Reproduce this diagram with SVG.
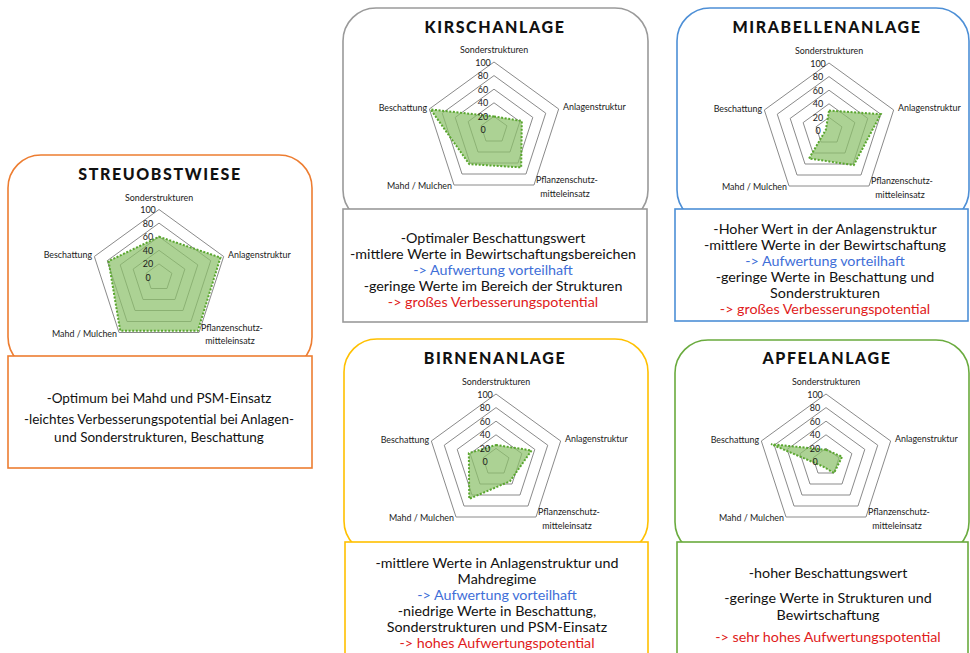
<svg xmlns="http://www.w3.org/2000/svg" xmlns:xlink="http://www.w3.org/1999/xlink" width="970" height="653" viewBox="0 0 970 653">
<style>
.bg{fill:#ffffff}
.panel{fill:#ffffff;stroke-width:1.6}
.tbox{fill:#ffffff;stroke-width:1.6}
.orange{stroke:#ED7D31}
.gray{stroke:#9a9a9a}
.blue{stroke:#4d8fd6}
.gold{stroke:#FFC000}
.green{stroke:#6aab3e}
.title{font-family:Lato,"Liberation Sans",sans-serif;font-weight:900;font-size:16px;letter-spacing:1.6px;fill:#111;text-anchor:middle}
.ax{font-family:Lato,"Liberation Sans",sans-serif;font-size:8.9px;fill:#1a1a1a}
.num{font-family:Lato,"Liberation Sans",sans-serif;font-size:9px;fill:#1a1a1a;text-anchor:middle}
.mid{text-anchor:middle}
.end{text-anchor:end}
.body{font-family:Lato,"Liberation Sans",sans-serif;font-size:14.3px;fill:#111;text-anchor:middle}
.s13{font-size:13.5px}
.bl{fill:#3f6fd8}
.rd{fill:#e01b1b}
.ring{fill:none;stroke:#8a8a8a;stroke-width:1}
.data{fill:#8cc06b;fill-opacity:0.72;stroke:#5aa62f;stroke-width:2;stroke-dasharray:2 1.6}
</style>
<defs>
<g id="grid">
<polygon class="ring" points="0,-68 64.67,-21.01 39.97,55.01 -39.97,55.01 -64.67,-21.01"/>
<polygon class="ring" points="0,-54.4 51.74,-16.81 31.98,44.01 -31.98,44.01 -51.74,-16.81"/>
<polygon class="ring" points="0,-40.8 38.8,-12.61 23.98,33.01 -23.98,33.01 -38.8,-12.61"/>
<polygon class="ring" points="0,-27.2 25.87,-8.4 15.99,22 -15.99,22 -25.87,-8.4"/>
<polygon class="ring" points="0,-13.6 12.93,-4.2 7.99,11 -7.99,11 -12.93,-4.2"/>
</g>
</defs>
<rect class="bg" x="0" y="0" width="970" height="653"/>

<g id="streuobstwiese">
<rect class="panel orange" x="8" y="155" width="304" height="215" rx="33"/>
<rect class="tbox orange" x="8" y="356" width="304" height="112"/>
<text class="title" x="160" y="180">STREUOBSTWIESE</text>
<g transform="translate(159,277.5)">
<use xlink:href="#grid"/>
<polygon class="data" points="0,-40.8 61.44,-19.96 38.77,53.36 -38.77,53.36 -50.44,-16.39"/>
<text class="ax mid" x="0" y="-77">Sonderstrukturen</text>
<text class="ax end" x="-67" y="-19.5">Beschattung</text>
<text class="ax" x="69" y="-20">Anlagenstruktur</text>
<text class="ax end" x="-42" y="59">Mahd / Mulchen</text>
<text class="ax" x="42" y="53">Pflanzenschutz-</text>
<text class="ax mid" x="71" y="66.5">mitteleinsatz</text>
<text class="num" x="-11" y="-64.5">100</text>
<text class="num" x="-11" y="-51">80</text>
<text class="num" x="-11" y="-37.5">60</text>
<text class="num" x="-11" y="-24">40</text>
<text class="num" x="-11" y="-10.5">20</text>
<text class="num" x="-11" y="3">0</text>
</g>
<text class="body s13" x="159" y="402.5">-Optimum bei Mahd und PSM-Einsatz</text>
<text class="body s13" x="159" y="423.5">-leichtes Verbesserungspotential bei Anlagen-</text>
<text class="body s13" x="159" y="441.5">und Sonderstrukturen, Beschattung</text>
</g>

<g id="kirschanlage">
<rect class="panel gray" x="343" y="8" width="305" height="215" rx="33"/>
<rect class="tbox gray" x="343" y="209" width="304" height="113"/>
<text class="title" x="495" y="33">KIRSCHANLAGE</text>
<g transform="translate(494,130)">
<use xlink:href="#grid"/>
<polygon class="data" points="0,-13.6 27.81,-9.03 27.18,37.41 -24.78,34.11 -63.38,-20.59"/>
<text class="ax mid" x="0" y="-77">Sonderstrukturen</text>
<text class="ax end" x="-67" y="-19.5">Beschattung</text>
<text class="ax" x="69" y="-20">Anlagenstruktur</text>
<text class="ax end" x="-42" y="59">Mahd / Mulchen</text>
<text class="ax" x="42" y="53">Pflanzenschutz-</text>
<text class="ax mid" x="71" y="66.5">mitteleinsatz</text>
<text class="num" x="-11" y="-64.5">100</text>
<text class="num" x="-11" y="-51">80</text>
<text class="num" x="-11" y="-37.5">60</text>
<text class="num" x="-11" y="-24">40</text>
<text class="num" x="-11" y="-10.5">20</text>
<text class="num" x="-11" y="3">0</text>
</g>
<text class="body" x="493" y="242.5">-Optimaler Beschattungswert</text>
<text class="body" x="493" y="258.5">-mittlere Werte in Bewirtschaftungsbereichen</text>
<text class="body bl" x="493" y="275">-&gt; Aufwertung vorteilhaft</text>
<text class="body" x="493" y="290.5">-geringe Werte im Bereich der Strukturen</text>
<text class="body rd" x="493" y="306.5">-&gt; großes Verbesserungspotential</text>
</g>

<g id="mirabellenanlage">
<rect class="panel blue" x="677" y="8" width="292" height="215" rx="33"/>
<rect class="tbox blue" x="675" y="209" width="293" height="112"/>
<text class="title" x="827" y="33">MIRABELLENANLAGE</text>
<g transform="translate(829,131)">
<use xlink:href="#grid"/>
<polygon class="data" points="0,-20.4 51.74,-16.81 24.78,34.11 -19.98,27.51 -3.23,-1.05"/>
<text class="ax mid" x="0" y="-77">Sonderstrukturen</text>
<text class="ax end" x="-67" y="-19.5">Beschattung</text>
<text class="ax" x="69" y="-20">Anlagenstruktur</text>
<text class="ax end" x="-42" y="59">Mahd / Mulchen</text>
<text class="ax" x="42" y="53">Pflanzenschutz-</text>
<text class="ax mid" x="71" y="66.5">mitteleinsatz</text>
<text class="num" x="-11" y="-64.5">100</text>
<text class="num" x="-11" y="-51">80</text>
<text class="num" x="-11" y="-37.5">60</text>
<text class="num" x="-11" y="-24">40</text>
<text class="num" x="-11" y="-10.5">20</text>
<text class="num" x="-11" y="3">0</text>
</g>
<text class="body" x="825" y="233.5">-Hoher Wert in der Anlagenstruktur</text>
<text class="body" x="825" y="249.5">-mittlere Werte in der Bewirtschaftung</text>
<text class="body bl" x="825" y="266">-&gt; Aufwertung vorteilhaft</text>
<text class="body" x="825" y="282">-geringe Werte in Beschattung und</text>
<text class="body" x="825" y="297.5">Sonderstrukturen</text>
<text class="body rd" x="825" y="313.5">-&gt; großes Verbesserungspotential</text>
</g>

<g id="birnenanlage">
<rect class="panel gold" x="344" y="339" width="304" height="215" rx="33"/>
<rect class="tbox gold" x="345" y="542" width="303" height="130"/>
<text class="title" x="495" y="364">BIRNENANLAGE</text>
<g transform="translate(496,462)">
<use xlink:href="#grid"/>
<polygon class="data" points="0,-17 35.57,-11.56 13.99,19.25 -26.78,36.86 -27.16,-8.82"/>
<text class="ax mid" x="0" y="-77">Sonderstrukturen</text>
<text class="ax end" x="-67" y="-19.5">Beschattung</text>
<text class="ax" x="69" y="-20">Anlagenstruktur</text>
<text class="ax end" x="-42" y="59">Mahd / Mulchen</text>
<text class="ax" x="42" y="53">Pflanzenschutz-</text>
<text class="ax mid" x="71" y="66.5">mitteleinsatz</text>
<text class="num" x="-11" y="-64.5">100</text>
<text class="num" x="-11" y="-51">80</text>
<text class="num" x="-11" y="-37.5">60</text>
<text class="num" x="-11" y="-24">40</text>
<text class="num" x="-11" y="-10.5">20</text>
<text class="num" x="-11" y="3">0</text>
</g>
<text class="body" x="497" y="567.5">-mittlere Werte in Anlagenstruktur und</text>
<text class="body" x="497" y="583.5">Mahdregime</text>
<text class="body bl" x="497" y="599.5">-&gt; Aufwertung vorteilhaft</text>
<text class="body" x="497" y="615.5">-niedrige Werte in Beschattung,</text>
<text class="body" x="497" y="631.5">Sonderstrukturen und PSM-Einsatz</text>
<text class="body rd" x="497" y="648">-&gt; hohes Aufwertungspotential</text>
</g>

<g id="apfelanlage">
<rect class="panel green" x="675" y="340" width="294" height="215" rx="33"/>
<rect class="tbox green" x="677" y="542" width="291" height="130"/>
<text class="title" x="827" y="364">APFELANLAGE</text>
<g transform="translate(826,462)">
<use xlink:href="#grid"/>
<polygon class="data" points="0,-12.24 16.17,-5.25 7.99,11 -3.2,4.4 -54.97,-17.86"/>
<text class="ax mid" x="0" y="-77">Sonderstrukturen</text>
<text class="ax end" x="-67" y="-19.5">Beschattung</text>
<text class="ax" x="69" y="-20">Anlagenstruktur</text>
<text class="ax end" x="-42" y="59">Mahd / Mulchen</text>
<text class="ax" x="42" y="53">Pflanzenschutz-</text>
<text class="ax mid" x="71" y="66.5">mitteleinsatz</text>
<text class="num" x="-11" y="-64.5">100</text>
<text class="num" x="-11" y="-51">80</text>
<text class="num" x="-11" y="-37.5">60</text>
<text class="num" x="-11" y="-24">40</text>
<text class="num" x="-11" y="-10.5">20</text>
<text class="num" x="-11" y="3">0</text>
</g>
<text class="body" x="828" y="577.5">-hoher Beschattungswert</text>
<text class="body" x="828" y="602.5">-geringe Werte in Strukturen und</text>
<text class="body" x="828" y="619.5">Bewirtschaftung</text>
<text class="body rd" x="828" y="641.5">-&gt; sehr hohes Aufwertungspotential</text>
</g>

<g id="connectors"></g>
</svg>
